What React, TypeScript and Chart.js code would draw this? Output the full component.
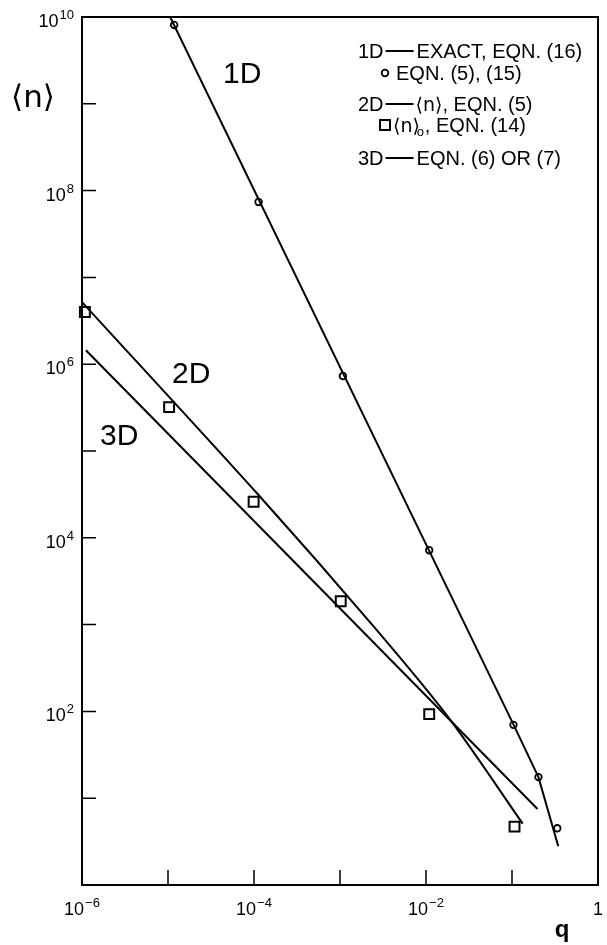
import React, { useEffect, useRef } from "react";
import { Chart, registerables } from "chart.js";

Chart.register(...registerables);

// ---- data ----
const xTickExps = [-6, -5, -4, -3, -2, -1, 0];
const xLabelExps = [-6, -4, -2, 0];
const yTickExps = [0, 1, 2, 3, 4, 5, 6, 7, 8, 9, 10];
const yLabelExps = [10, 8, 6, 4, 2];

// 1D exact curve, EQN. (16)
const line1DQ = [1.06e-5, 0.1045, 0.203, 0.345];
const line1DN = [1e10, 70, 17.5, 2.8];
// 1D points, EQN. (5), (15)
const circleQ = [1.18e-5, 1.13e-4, 1.08e-3, 1.09e-2, 0.104, 0.203, 0.336];
const circleN = [8.1e9, 7.4e7, 7.3e5, 7.2e3, 70, 17.5, 4.5];
// 2D <n>, EQN. (5)
const line2DQ = [1.0e-6, 1.07e-4, 2.5e-3, 1.86e-2, 0.133];
const line2DN = [5.2e6, 3.3e4, 935, 83, 5.1];
// 2D <n>_o, EQN. (14)
const squareQ = [1.08e-6, 1.03e-5, 9.9e-5, 1.02e-3, 1.09e-2, 0.107];
const squareN = [4.0e6, 3.2e5, 2.6e4, 1.86e3, 93, 4.7];
// 3D, EQN. (6) or (7)
const line3DQ = [1.11e-6, 0.198];
const line3DN = [1.45e6, 7.5];

const FONT = "'Liberation Sans', Arial, Helvetica, sans-serif";

const pts = (xs: number[], ys: number[]) => xs.map((x, i) => ({ x, y: ys[i] }));

function powLabel(ctx: CanvasRenderingContext2D, exp: number, x: number, baseline: number, align: "center" | "right") {
  const base = exp === 0 ? "1" : "10";
  const sup = exp === 0 ? "" : exp < 0 ? "\u2212" + -exp : String(exp);
  ctx.font = `18px ${FONT}`;
  const wb = ctx.measureText(base).width;
  ctx.font = `13px ${FONT}`;
  const ws = sup ? ctx.measureText(sup).width + 1 : 0;
  const total = wb + ws;
  const x0 = align === "center" ? x - total / 2 : x - total;
  ctx.textAlign = "left";
  ctx.textBaseline = "alphabetic";
  ctx.font = `18px ${FONT}`;
  ctx.fillText(base, x0, baseline);
  if (sup) {
    ctx.font = `13px ${FONT}`;
    ctx.fillText(sup, x0 + wb + 1, baseline - 8);
  }
}

const decor = {
  id: "decor",
  afterDraw(chart: any) {
    const ctx: CanvasRenderingContext2D = chart.ctx;
    const xs = chart.scales.x;
    const ys = chart.scales.y;
    const a = chart.chartArea;
    ctx.save();
    ctx.strokeStyle = "#000";
    ctx.fillStyle = "#000";
    // frame
    ctx.lineWidth = 2;
    ctx.strokeRect(a.left, a.top, a.right - a.left, a.bottom - a.top);
    // ticks
    ctx.lineWidth = 1.5;
    ctx.beginPath();
    xTickExps.forEach((e) => {
      const px = xs.getPixelForValue(Math.pow(10, e));
      ctx.moveTo(px, a.bottom);
      ctx.lineTo(px, a.bottom - 15);
    });
    yTickExps.forEach((e) => {
      const py = ys.getPixelForValue(Math.pow(10, e));
      ctx.moveTo(a.left, py);
      ctx.lineTo(a.left + 14, py);
    });
    ctx.stroke();
    // tick labels
    xLabelExps.forEach((e) => {
      const px = xs.getPixelForValue(Math.pow(10, e));
      powLabel(ctx, e, px, a.bottom + 30, "center");
    });
    yLabelExps.forEach((e) => {
      const py = ys.getPixelForValue(Math.pow(10, e));
      powLabel(ctx, e, a.left - 8, py + 10, "right");
    });
    // axis titles
    ctx.textAlign = "center";
    ctx.font = `bold 24px ${FONT}`;
    ctx.fillText("q", 562, 937);
    ctx.font = `31px 'DejaVu Sans', ${FONT}`;
    ctx.fillText("\u27E8n\u27E9", 33, 107);
    // curve labels
    ctx.textAlign = "left";
    ctx.font = `30px ${FONT}`;
    ctx.fillText("1D", 223, 83);
    ctx.fillText("2D", 172, 383);
    ctx.fillText("3D", 100, 445);
    // legend
    const L = 358;
    const f = `20px ${FONT}`;
    const dash = (x1: number, x2: number, y: number) => {
      ctx.lineWidth = 2;
      ctx.beginPath();
      ctx.moveTo(x1, y - 7);
      ctx.lineTo(x2, y - 7);
      ctx.stroke();
    };
    const txt = (s: string, x: number, y: number, font = f) => {
      ctx.font = font;
      ctx.fillText(s, x, y);
      return x + ctx.measureText(s).width;
    };
    let y = 58;
    let x = txt("1D", L, y);
    dash(x + 2, x + 30, y);
    txt("EXACT, EQN. (16)", x + 33, y);
    y = 80;
    ctx.lineWidth = 1.8;
    ctx.beginPath();
    ctx.arc(385, y - 7, 3.3, 0, Math.PI * 2);
    ctx.stroke();
    txt("EQN. (5), (15)", 396, y);
    y = 111;
    x = txt("2D", L, y);
    dash(x + 2, x + 30, y);
    x = txt("\u27E8n\u27E9", x + 32, y, `19px 'DejaVu Sans', ${FONT}`);
    txt(", EQN. (5)", x, y);
    y = 132;
    ctx.lineWidth = 2;
    ctx.strokeRect(380, y - 12, 10, 10);
    x = txt("\u27E8n\u27E9", 393, y, `19px 'DejaVu Sans', ${FONT}`);
    txt("o", x - 3, y + 4, `13px ${FONT}`);
    txt(", EQN. (14)", x + 5, y);
    y = 165;
    x = txt("3D", L, y);
    dash(x + 2, x + 30, y);
    txt("EQN. (6) OR (7)", x + 33, y);
    ctx.restore();
  },
};

export default function App() {
  const ref = useRef<HTMLCanvasElement | null>(null);
  useEffect(() => {
    if (!ref.current) return;
    const lineDs = (xsArr: number[], ysArr: number[], tension = 0) => ({
      data: pts(xsArr, ysArr),
      showLine: true,
      borderColor: "#000",
      borderWidth: 2,
      pointRadius: 0,
      tension,
      fill: false,
    });
    const chart = new Chart(ref.current, {
      type: "scatter",
      data: {
        datasets: [
          lineDs(line1DQ, line1DN),
          lineDs(line2DQ, line2DN, 0.3),
          lineDs(line3DQ, line3DN),
          {
            data: pts(circleQ, circleN),
            showLine: false,
            pointStyle: "circle",
            pointRadius: 3.3,
            pointBorderWidth: 1.8,
            pointBackgroundColor: "#fff",
            pointBorderColor: "#000",
            clip: false,
          },
          {
            data: pts(squareQ, squareN),
            showLine: false,
            pointStyle: "rect",
            pointRadius: 7,
            pointBorderWidth: 2,
            pointBackgroundColor: "#fff",
            pointBorderColor: "#000",
            clip: false,
          },
        ] as any,
      },
      options: {
        responsive: false,
        animation: false,
        devicePixelRatio: 1,
        events: [],
        layout: { padding: { left: 82, right: 5, top: 17, bottom: 60 } },
        scales: {
          x: { type: "logarithmic", min: 1e-6, max: 1, display: false },
          y: { type: "logarithmic", min: 1, max: 1e10, display: false },
        },
        plugins: { legend: { display: false }, tooltip: { enabled: false } },
      },
      plugins: [decor],
    });
    return () => chart.destroy();
  }, []);
  return (
    <div style={{ position: "absolute", left: 0, top: 0, width: 607, height: 945, background: "#fff" }}>
      <canvas ref={ref} width={607} height={945} style={{ display: "block", width: 607, height: 945 }} />
    </div>
  );
}
